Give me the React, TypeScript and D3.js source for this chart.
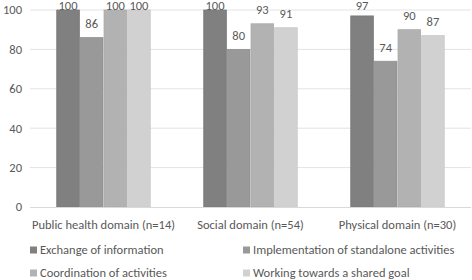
import React from "react";
import * as d3 from "d3";

const categories = ["Public health domain (n=14)", "Social domain (n=54)", "Physical domain (n=30)"];
const seriesNames = [
  "Exchange of information",
  "Implementation of standalone activities",
  "Coordination of activities",
  "Working towards a shared goal",
];
const exchange = [100, 100, 97];
const implementation = [86, 80, 74];
const coordination = [100, 93, 90];
const shared = [100, 91, 87];
const yTicks = [0, 20, 40, 60, 80, 100];

const series = [exchange, implementation, coordination, shared];
const fills = ["#808080", "#999999", "#b2b2b2", "#d1d1d1"];
const strokes = ["#777777", "#8f8f8f", "#a9a9a9", "#c8c8c8"];

const W = 472, H = 280;
const left = 30, right = 471, top = 10, bottom = 207;
const font = "Calibri, Carlito, Lato, sans-serif";
const fs = 12.5;

export default function App() {
  const x0 = d3.scaleBand<string>().domain(categories).range([left, right]).paddingInner(0.357).paddingOuter(0.1785);
  const x1 = d3.scaleBand<number>().domain(d3.range(series.length)).range([0, x0.bandwidth()]);
  const y = d3.scaleLinear().domain([0, 100]).range([bottom, top]);

  return (
    <svg width={W} height={H} style={{ position: "absolute", left: 0, top: 0, background: "#fff" }} fontFamily={font}>
      {yTicks.map((t) => (
        <g key={t}>
          {t > 0 && <line x1={left} x2={right} y1={y(t)} y2={y(t)} stroke="#e3e3e3" strokeWidth={1} />}
          <text x={22} y={y(t)} dy="0.35em" textAnchor="end" fontSize={fs} fill="#595959">{t}</text>
        </g>
      ))}
      {categories.map((c, ci) => (
        <g key={c}>
          {series.map((s, si) => {
            const bx = (x0(c) as number) + (x1(si) as number);
            const bw = x1.bandwidth();
            return (
              <g key={si}>
                <rect x={bx + 0.5} y={y(s[ci])} width={bw - 1} height={bottom - y(s[ci])} fill={fills[si]} stroke={strokes[si]} strokeWidth={0.75} />
                <text x={bx + bw / 2} y={Math.max(y(s[ci]) - 9.5, 10)} textAnchor="middle" fontSize={fs} fill="#595959">{s[ci]}</text>
              </g>
            );
          })}
          <text x={(x0(c) as number) + x0.bandwidth() / 2} y={225} dy="0.35em" textAnchor="middle" fontSize={fs} fill="#595959">{c}</text>
        </g>
      ))}
      <line x1={left} x2={right} y1={bottom + 0.5} y2={bottom + 0.5} stroke="#d9d9d9" strokeWidth={1} />
      {seriesNames.map((n, i) => {
        const lx = i % 2 === 0 ? 30 : 243;
        const ly = i < 2 ? 250 : 273;
        return (
          <g key={n}>
            <rect x={lx} y={ly - 3.5} width={7} height={7} fill={fills[i]} />
            <text x={lx + 10} y={ly} dy="0.35em" fontSize={fs} fill="#595959">{n}</text>
          </g>
        );
      })}
    </svg>
  );
}
